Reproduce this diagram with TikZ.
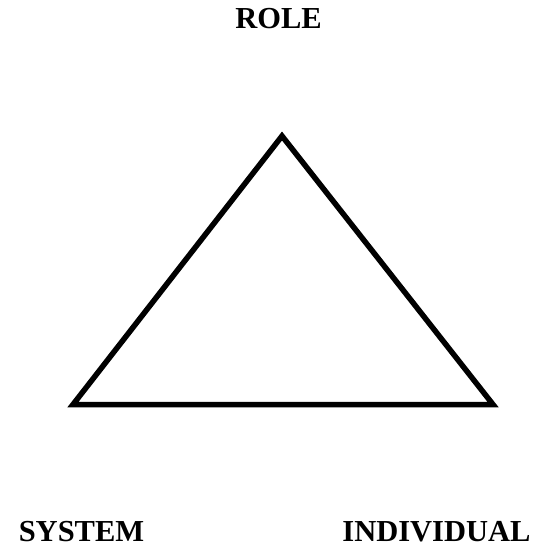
\documentclass[tikz,border=0pt]{standalone}
\usepackage{fontspec}
\setmainfont{Liberation Serif}
\begin{document}
\begin{tikzpicture}[x=1pt,y=-1pt,
  lbl/.style={font=\fontsize{30.5}{36}\selectfont\bfseries, inner sep=0pt, anchor=base},
  edge/.style={line width=5.5pt, line join=miter}]
\useasboundingbox[fill=white] (0,0) rectangle (542,548);
\coordinate (top) at (282,136);
\coordinate (bl) at (73,404.5);
\coordinate (br) at (493,404.5);
\draw[edge] (top) -- (bl) -- (br) -- cycle;
\node[lbl] (role) at (278.5,29) {ROLE};
\node[lbl] (system) at (81.5,541.3) {SYSTEM};
\node[lbl] (individual) at (436.5,541.3) {INDIVIDUAL};
\end{tikzpicture}
\end{document}
